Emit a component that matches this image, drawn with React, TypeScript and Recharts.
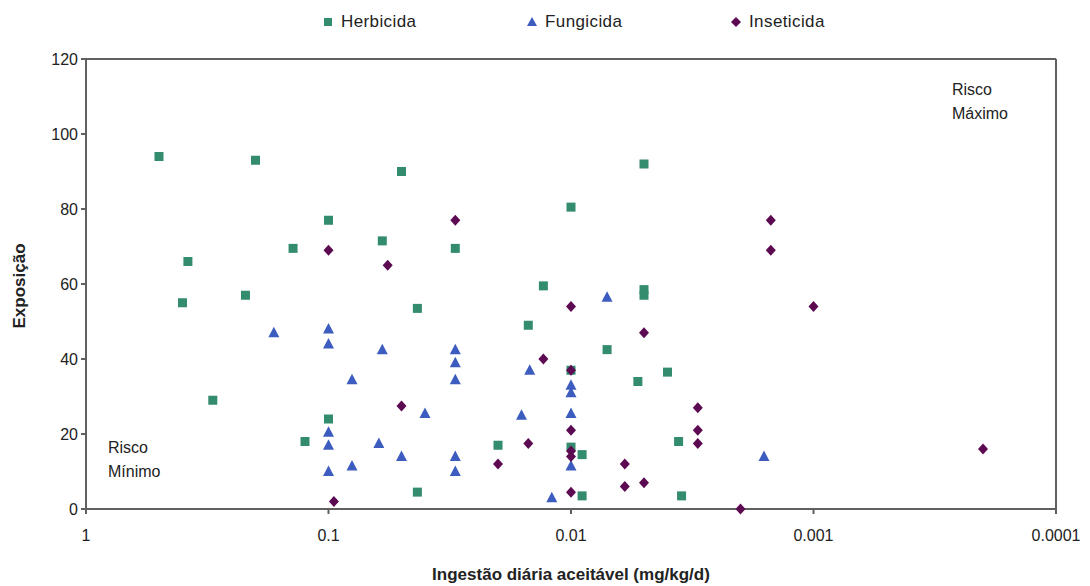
import { Legend, ReferenceLine, Scatter, ScatterChart, XAxis, YAxis } from "recharts";

const GREEN = "#338c6e";
const BLUE = "#3d5cc0";
const PURPLE = "#5c0a52";
const AXIS = "#606060";
const INK = "#222222";
const FONT = "'Liberation Sans', Arial, sans-serif";

const xTicks = [1, 0.1, 0.01, 0.001, 0.0001];
const yTicks = [0, 20, 40, 60, 80, 100, 120];

// [ingestão diária aceitável (mg/kg/d), exposição]
const herbicida: [number, number][] = [
  [0.5, 94], [0.2, 93], [0.38, 66], [0.4, 55], [0.22, 57], [0.14, 69.5],
  [0.3, 29], [0.1, 77], [0.1, 24], [0.125, 18], [0.05, 90], [0.06, 71.5],
  [0.043, 53.5], [0.043, 4.5], [0.03, 69.5], [0.02, 17], [0.015, 49],
  [0.013, 59.5], [0.01, 80.5], [0.01, 37], [0.01, 16.5], [0.009, 14.5],
  [0.009, 3.5], [0.0071, 42.5], [0.005, 92], [0.005, 58.5], [0.005, 57],
  [0.0053, 34], [0.004, 36.5], [0.0036, 18], [0.0035, 3.5],
];

const fungicida: [number, number][] = [
  [0.168, 47], [0.1, 48], [0.1, 44], [0.1, 20.5], [0.1, 17], [0.1, 10],
  [0.08, 34.5], [0.08, 11.5], [0.06, 42.5], [0.062, 17.5], [0.05, 14],
  [0.04, 25.5], [0.03, 42.5], [0.03, 39], [0.03, 34.5], [0.03, 14], [0.03, 10],
  [0.016, 25], [0.0148, 37], [0.012, 3], [0.01, 33], [0.01, 31], [0.01, 25.5],
  [0.01, 11.5], [0.0071, 56.5], [0.0016, 14],
];

const inseticida: [number, number][] = [
  [0.1, 69], [0.095, 2], [0.057, 65], [0.05, 27.5], [0.03, 77], [0.02, 12],
  [0.015, 17.5], [0.013, 40], [0.01, 54], [0.01, 37], [0.01, 21], [0.01, 15.5],
  [0.01, 14], [0.01, 4.5], [0.006, 12], [0.006, 6], [0.005, 47], [0.005, 7],
  [0.003, 27], [0.003, 21], [0.003, 17.5], [0.002, 0], [0.0015, 77],
  [0.0015, 69], [0.001, 54], [0.0002, 16],
];

const toPoints = (rows: [number, number][]) => rows.map(([x, y]) => ({ x, y }));

function SquareMark({ cx, cy }: any) {
  return <rect x={cx - 4.5} y={cy - 4.5} width={9} height={9} fill={GREEN} />;
}

function TriangleMark({ cx, cy }: any) {
  return (
    <polygon
      points={`${cx},${cy - 6} ${cx + 5.5},${cy + 4.5} ${cx - 5.5},${cy + 4.5}`}
      fill={BLUE}
    />
  );
}

function DiamondMark({ cx, cy }: any) {
  return (
    <polygon
      points={`${cx},${cy - 5.5} ${cx + 5},${cy} ${cx},${cy + 5.5} ${cx - 5},${cy}`}
      fill={PURPLE}
    />
  );
}

const legendItems = [
  { name: "Herbicida", left: 323, icon: <rect x={1} y={1} width={8} height={8} fill={GREEN} /> },
  { name: "Fungicida", left: 527, icon: <polygon points="5,0 10,9 0,9" fill={BLUE} /> },
  { name: "Inseticida", left: 731, icon: <polygon points="5,0 10,5 5,10 0,5" fill={PURPLE} /> },
];

function LegendContent() {
  return (
    <div style={{ position: "relative", height: 24 }}>
      {legendItems.map((it) => (
        <div
          key={it.name}
          style={{
            position: "absolute",
            left: it.left,
            top: 0,
            display: "flex",
            alignItems: "center",
            gap: 8,
            fontFamily: FONT,
            fontSize: 17,
            letterSpacing: 0.4,
            color: INK,
          }}
        >
          <svg width={10} height={10}>{it.icon}</svg>
          <span>{it.name}</span>
        </div>
      ))}
    </div>
  );
}

const tickStyle = { fill: INK, fontSize: 16, fontFamily: FONT };

export default function App() {
  return (
    <div style={{ position: "absolute", left: 0, top: 0, width: 1090, height: 586, background: "#fff" }}>
      <ScatterChart width={1090} height={586} margin={{ top: 59, right: 34, left: 0, bottom: 0 }}>
        <XAxis
          type="number"
          dataKey="x"
          scale="log"
          domain={[0.0001, 1]}
          ticks={xTicks}
          reversed
          allowDataOverflow
          height={77}
          stroke={AXIS}
          strokeWidth={2}
          tickSize={5}
          tickMargin={16}
          tick={tickStyle}
          tickFormatter={(v) => String(v)}
        />
        <YAxis
          type="number"
          dataKey="y"
          domain={[0, 120]}
          ticks={yTicks}
          width={86}
          stroke={AXIS}
          strokeWidth={2}
          tickSize={5}
          tickMargin={3}
          tick={tickStyle}
        />
        <ReferenceLine y={120} stroke={AXIS} strokeWidth={2} />
        <ReferenceLine x={0.0001} stroke={AXIS} strokeWidth={2} />
        <Legend
          verticalAlign="middle"
          content={<LegendContent />}
          wrapperStyle={{ top: 12, left: 0, width: 1090 }}
        />
        <Scatter name="Herbicida" data={toPoints(herbicida)} shape={<SquareMark />} isAnimationActive={false} />
        <Scatter name="Fungicida" data={toPoints(fungicida)} shape={<TriangleMark />} isAnimationActive={false} />
        <Scatter name="Inseticida" data={toPoints(inseticida)} shape={<DiamondMark />} isAnimationActive={false} />
      </ScatterChart>

      <div style={{ position: "absolute", left: 108, top: 436, fontFamily: FONT, fontSize: 16, lineHeight: "24px", color: INK }}>
        Risco<br />Mínimo
      </div>
      <div style={{ position: "absolute", left: 952, top: 78, fontFamily: FONT, fontSize: 16, lineHeight: "24px", color: INK }}>
        Risco<br />Máximo
      </div>
      <div
        style={{
          position: "absolute",
          left: 0,
          width: 1142,
          top: 565,
          textAlign: "center",
          fontFamily: FONT,
          fontWeight: "bold",
          fontSize: 17,
          color: INK,
        }}
      >
        Ingestão diária aceitável (mg/kg/d)
      </div>
      <div
        style={{
          position: "absolute",
          left: 20,
          top: 286,
          transform: "translate(-50%, -50%) rotate(-90deg)",
          fontFamily: FONT,
          fontWeight: "bold",
          fontSize: 17,
          color: INK,
          whiteSpace: "nowrap",
        }}
      >
        Exposição
      </div>
    </div>
  );
}
